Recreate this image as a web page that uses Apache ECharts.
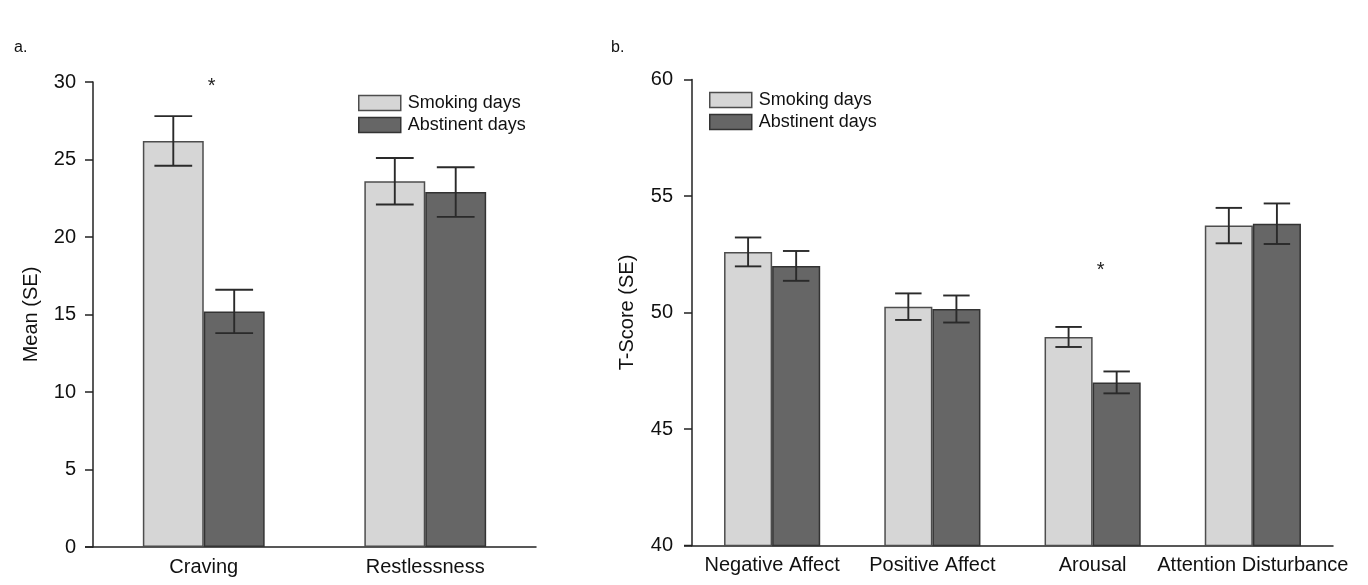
<!DOCTYPE html>
<html>
<head>
<meta charset="utf-8">
<script src="https://cdn.jsdelivr.net/npm/echarts@6/dist/echarts.min.js"></script>
<style>html,body{margin:0;padding:0;background:#fff;}#c{width:1368px;height:585px;}</style>
</head>
<body>
<div id="c"></div>
<script>
// ---- data ----
const seriesNames = ['Smoking days', 'Abstinent days'];
const catsA = ['Craving', 'Restlessness'];
const smokA = [26.2, 23.6];
const smokAErr = [1.6, 1.5];
const abstA = [15.2, 22.9];
const abstAErr = [1.4, 1.6];
const ticksA = { min: 0, max: 30, interval: 5 };
const starA = [['Craving', 29.7]];

const catsB = ['Negative Affect', 'Positive Affect', 'Arousal', 'Attention Disturbance'];
const smokB = [52.6, 50.25, 48.95, 53.73];
const smokBErr = [0.62, 0.57, 0.43, 0.76];
const abstB = [52.0, 50.15, 47.0, 53.81];
const abstBErr = [0.64, 0.58, 0.47, 0.87];
const ticksB = { min: 40, max: 60, interval: 5 };
const starB = [['Arousal', 51.8]];

// ---- styling ----
const FONT = '"Liberation Sans", Arial, sans-serif';
const LIGHT = '#d6d6d6', DARK = '#666666';
const BAR_W = 0.275, BAR_W_B = 0.30;

function errItems(vals, errs) { return vals.map((v, i) => [i, v, errs[i]]); }

function errSeries(xi, vals, errs, side, bw, capFrac) {
  return {
    type: 'custom', xAxisIndex: xi, yAxisIndex: xi, z: 5, silent: true,
    encode: { x: 0, y: 1 },
    data: errItems(vals, errs),
    renderItem: function (params, api) {
      const x = api.value(0), v = api.value(1), e = api.value(2);
      const band = api.size([1, 0])[0];
      const off = side * band * bw / 2;
      const hi = api.coord([x, v + e]);
      const lo = api.coord([x, v - e]);
      const cx = hi[0] + off;
      const hw = band * bw * capFrac / 2;
      const st = { stroke: '#2a2a2a', lineWidth: 1.9 };
      return {
        type: 'group', children: [
          { type: 'line', shape: { x1: cx, y1: hi[1], x2: cx, y2: lo[1] }, style: st },
          { type: 'line', shape: { x1: cx - hw, y1: hi[1], x2: cx + hw, y2: hi[1] }, style: st },
          { type: 'line', shape: { x1: cx - hw, y1: lo[1], x2: cx + hw, y2: lo[1] }, style: st }
        ]
      };
    }
  };
}

function starSeries(xi, pts) {
  return {
    type: 'custom', xAxisIndex: xi, yAxisIndex: xi, z: 6, silent: true,
    encode: { x: 0, y: 1 },
    data: pts,
    renderItem: function (params, api) {
      const p = api.coord([api.value(0), api.value(1)]);
      return { type: 'text', x: p[0] + 8, y: p[1], style: { text: '*', fontSize: 20, fontFamily: FONT, fill: '#222', align: 'center', verticalAlign: 'middle' } };
    }
  };
}

function barSeries(name, xi, data, color, border, bw) {
  return {
    name: name, type: 'bar', xAxisIndex: xi, yAxisIndex: xi,
    data: data, barWidth: (bw * 100) + '%', barGap: '0%',
    itemStyle: { color: color, borderColor: border, borderWidth: 1.5 },
    emphasis: { disabled: true }
  };
}

const axisLineStyle = { color: '#222', width: 1.5 };

function xAxisCfg(gi, cats) {
  return {
    type: 'category', gridIndex: gi, data: cats,
    axisLine: { show: true, lineStyle: axisLineStyle },
    axisTick: { show: false },
    axisLabel: { color: '#111', fontSize: 20, fontFamily: FONT, margin: 10, interval: 0 }
  };
}
function yAxisCfg(gi, t, name, gap, margin) {
  return {
    type: 'value', gridIndex: gi, min: t.min, max: t.max, interval: t.interval,
    name: name, nameLocation: 'middle', nameRotate: 90, nameGap: gap,
    nameTextStyle: { color: '#111', fontSize: 20, fontFamily: FONT },
    axisLine: { show: true, lineStyle: axisLineStyle },
    axisTick: { show: true, inside: false, length: 8, lineStyle: axisLineStyle },
    axisLabel: { color: '#111', fontSize: 20, fontFamily: FONT, margin: margin },
    splitLine: { show: false }
  };
}

function legendCfg(left, top) {
  return {
    left: left, top: top, orient: 'vertical', itemGap: 4, itemWidth: 42, itemHeight: 15,
    icon: 'rect', selectedMode: false,
    textStyle: { fontSize: 18, fontFamily: FONT, color: '#111', padding: [0, 0, 0, 2] },
    data: seriesNames.map((n, i) => ({
      name: n,
      itemStyle: { color: i === 0 ? LIGHT : DARK, borderColor: i === 0 ? '#4d4d4d' : '#333', borderWidth: 1.5 }
    }))
  };
}

const option = {
  backgroundColor: '#ffffff',
  animation: false,
  title: [
    { text: 'a.', left: 9, top: 35, textStyle: { fontSize: 16, fontWeight: 'normal', fontFamily: FONT, color: '#111' } },
    { text: 'b.', left: 606, top: 35, textStyle: { fontSize: 16, fontWeight: 'normal', fontFamily: FONT, color: '#111' } }
  ],
  legend: [legendCfg(353, 89), legendCfg(704, 86)],
  grid: [
    { left: 93, right: 832, top: 82, bottom: 38 },
    { left: 692, right: 35, top: 79.5, bottom: 39.5 }
  ],
  xAxis: [xAxisCfg(0, catsA), xAxisCfg(1, catsB)],
  yAxis: [yAxisCfg(0, ticksA, 'Mean (SE)', 52, 17), yAxisCfg(1, ticksB, 'T-Score (SE)', 55, 19)],
  series: [
    barSeries(seriesNames[0], 0, smokA, LIGHT, '#4d4d4d', BAR_W),
    barSeries(seriesNames[1], 0, abstA, DARK, '#333', BAR_W),
    errSeries(0, smokA, smokAErr, -1, BAR_W, 0.62),
    errSeries(0, abstA, abstAErr, 1, BAR_W, 0.62),
    starSeries(0, starA),
    barSeries(seriesNames[0], 1, smokB, LIGHT, '#4d4d4d', BAR_W_B),
    barSeries(seriesNames[1], 1, abstB, DARK, '#333', BAR_W_B),
    errSeries(1, smokB, smokBErr, -1, BAR_W_B, 0.55),
    errSeries(1, abstB, abstBErr, 1, BAR_W_B, 0.55),
    starSeries(1, starB)
  ]
};

const chart = echarts.init(document.getElementById('c'), null, { renderer: 'canvas' });
chart.setOption(option);

// extend each baseline leftwards to the tick start, as in the original figure
const ext = [[0, ticksA.min], [1, ticksB.min]].map(([gi, ymin]) => {
  const p = chart.convertToPixel({ gridIndex: gi }, [0, ymin]);
  const yPix = chart.convertToPixel({ yAxisIndex: gi }, ymin);
  const grid = chart.getModel().getComponent('grid', gi).coordinateSystem.getRect();
  return {
    type: 'line', silent: true, z: 10,
    shape: { x1: grid.x - 8, y1: yPix, x2: grid.x, y2: yPix },
    style: { stroke: '#222', lineWidth: 1.5 }
  };
});
chart.setOption({ graphic: ext });
</script>
</body>
</html>
